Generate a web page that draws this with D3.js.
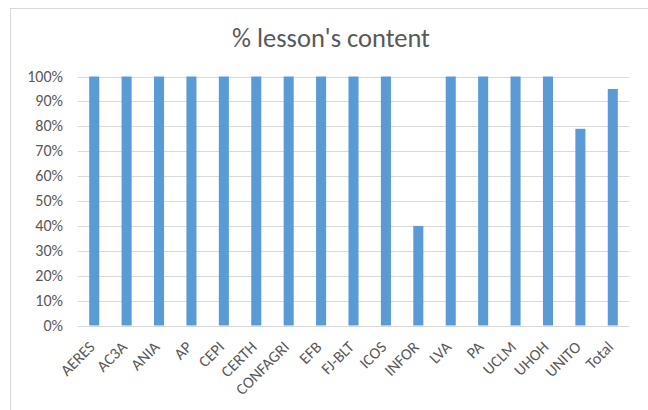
<!DOCTYPE html>
<html><head><meta charset="utf-8">
<script src="https://cdn.jsdelivr.net/npm/d3@7"></script>
<style>body{margin:0;background:#fff;}svg{display:block;font-family:Carlito,Calibri,"Liberation Sans",Arial,sans-serif;}</style>
</head><body>
<svg id="c" width="648" height="410"></svg>
<script>
const categories = ["AERES","AC3A","ANIA","AP","CEPI","CERTH","CONFAGRI","EFB","FJ-BLT","ICOS","INFOR","LVA","PA","UCLM","UHOH","UNITO","Total"];
const values = [1,1,1,1,1,1,1,1,1,1,0.40,1,1,1,1,0.79,0.95];
const yTicks = [0,0.1,0.2,0.3,0.4,0.5,0.6,0.7,0.8,0.9,1];
const title = "% lesson's content";

const svg = d3.select("#c");
svg.append("rect").attr("x",10.5).attr("y",8.5).attr("width",650).attr("height",410).attr("fill","#fff").attr("stroke","#d9d9d9");
const x = d3.scaleBand().domain(categories).range([78,629]).paddingInner(0.69).paddingOuter(0.345);
const y = d3.scaleLinear().domain([0,1]).range([325.5,76.5]);

svg.append("text").attr("x",331).attr("y",47).attr("text-anchor","middle").attr("font-size",26.5).attr("fill","#595959").text(title);

const g = svg.append("g");
g.selectAll("line.grid").data(yTicks).enter().append("line")
 .attr("x1",78).attr("x2",629).attr("y1",d=>Math.round(y(d))+0.5).attr("y2",d=>Math.round(y(d))+0.5)
 .attr("stroke","#d9d9d9").attr("stroke-width",1);
g.selectAll("text.yt").data(yTicks).enter().append("text")
 .attr("x",63).attr("y",d=>y(d)+5).attr("text-anchor","end").attr("font-size",16).attr("fill","#595959")
 .text(d=>d3.format(".0%")(d));

g.selectAll("rect.bar").data(values).enter().append("rect")
 .attr("x",(d,i)=>x(categories[i])).attr("width",x.bandwidth())
 .attr("y",d=>y(d)).attr("height",d=>y(0)-y(d)).attr("fill","#5b9bd5");

g.selectAll("text.xt").data(categories).enter().append("text")
 .attr("transform",d=>`translate(${x(d)+x.bandwidth()/2+1.5},${348}) rotate(-45)`)
 .attr("text-anchor","end").attr("font-size",16).attr("fill","#595959").text(d=>d);
</script>
</body></html>
